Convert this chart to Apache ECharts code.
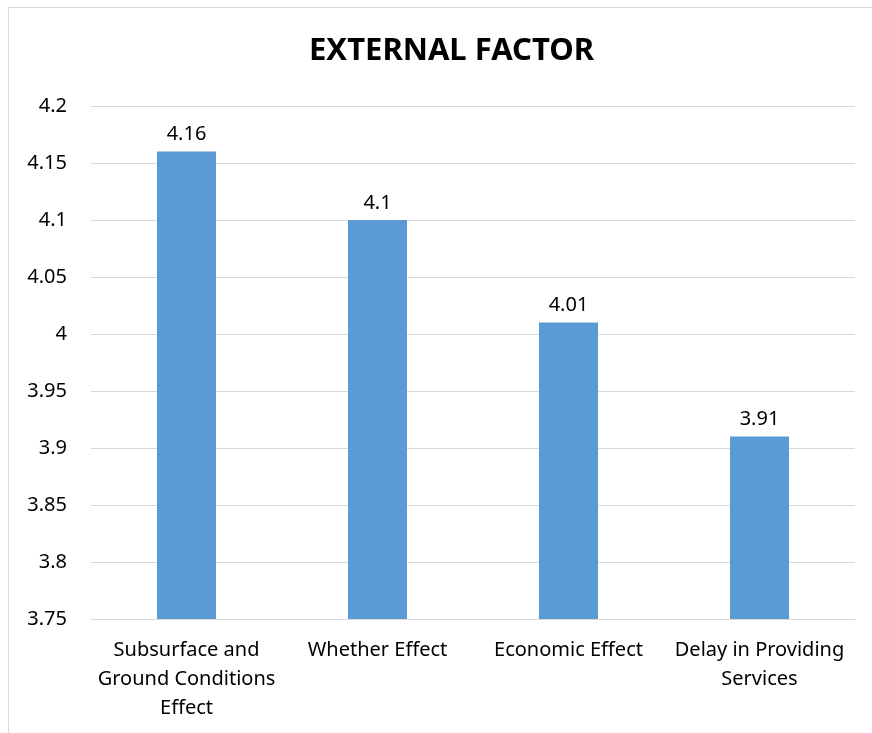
<!DOCTYPE html>
<html>
<head>
<meta charset="utf-8">
<script src="https://cdn.jsdelivr.net/npm/echarts@6/dist/echarts.min.js"></script>
<style>
  html, body { margin: 0; padding: 0; background: #fff; }
  #main { width: 872px; height: 733px; }
</style>
</head>
<body>
<div id="main"></div>
<script>
var categories = ['Subsurface and\nGround Conditions\nEffect', 'Whether Effect', 'Economic Effect', 'Delay in Providing\nServices'];
var values = [4.16, 4.1, 4.01, 3.91];
var yMin = 3.75, yMax = 4.2, yStep = 0.05;

var chart = echarts.init(document.getElementById('main'));
var font = '"Noto Sans", "Open Sans", sans-serif';

var option = {
    backgroundColor: '#fff',
    animation: false,
    title: {
        text: 'EXTERNAL FACTOR',
        left: 304,
        top: 31,
        textStyle: { fontFamily: font, fontSize: 31, fontWeight: 'bold', color: '#000' }
    },
    graphic: [{
        type: 'rect',
        shape: { x: 8.5, y: 7.5, width: 900, height: 800 },
        style: { fill: 'none', stroke: '#d9d9d9', lineWidth: 1 },
        silent: true
    }],
    grid: { left: 91, right: 17, top: 106, bottom: 114 },
    xAxis: {
        type: 'category',
        data: categories,
        axisTick: { show: false },
        axisLine: { show: true, lineStyle: { color: '#d9d9d9', width: 1 } },
        axisLabel: {
            interval: 0,
            margin: 17,
            fontFamily: font,
            fontSize: 20,
            lineHeight: 29,
            color: '#000'
        }
    },
    yAxis: {
        type: 'value',
        min: yMin,
        max: yMax,
        interval: yStep,
        axisLine: { show: false },
        axisTick: { show: false },
        axisLabel: {
            margin: 24,
            fontFamily: font,
            fontSize: 20,
            color: '#000',
            formatter: function (v) { return String(Math.round(v * 100) / 100); }
        },
        splitLine: { lineStyle: { color: '#d9d9d9', width: 1 } }
    },
    series: [{
        type: 'bar',
        data: values,
        barWidth: 59,
        itemStyle: { color: '#5b9bd5' },
        label: {
            show: true,
            position: 'top',
            distance: 7,
            fontFamily: font,
            fontSize: 20,
            color: '#000'
        }
    }]
};
chart.setOption(option);
</script>
</body>
</html>
